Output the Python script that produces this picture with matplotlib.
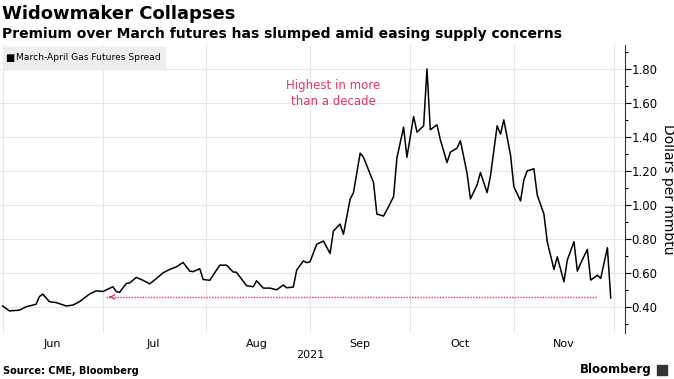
import matplotlib
matplotlib.use("Agg")
import matplotlib.pyplot as plt
import matplotlib.dates as mdates
from matplotlib.patches import Rectangle
import numpy as np
import pandas as pd

# March-April gas futures spread (2021)
DATES = [
    "06-01", "06-03", "06-06", "06-08", "06-11", "06-12", "06-13", "06-15", "06-17", "06-20",
    "06-22", "06-24", "06-27", "06-29",
    "07-01", "07-04", "07-05", "07-06", "07-08", "07-09", "07-11", "07-13", "07-15", "07-17",
    "07-19", "07-21", "07-23", "07-25", "07-27", "07-28", "07-30", "07-31",
    "08-02", "08-04", "08-05", "08-07", "08-09", "08-10", "08-13", "08-15", "08-16", "08-18",
    "08-20", "08-22", "08-24", "08-25", "08-27", "08-28", "08-30", "08-31",
    "09-01", "09-03", "09-05", "09-07", "09-08", "09-10", "09-11", "09-13", "09-14", "09-16",
    "09-17", "09-20", "09-21", "09-23", "09-24", "09-26", "09-27", "09-29", "09-30",
    "10-02", "10-03", "10-05", "10-06", "10-07", "10-09", "10-10", "10-12", "10-13", "10-15",
    "10-16", "10-18", "10-19", "10-21", "10-22", "10-24", "10-25", "10-27", "10-28", "10-29",
    "10-31",
    "11-01", "11-03", "11-04", "11-05", "11-07", "11-08", "11-10", "11-11", "11-13", "11-14",
    "11-16", "11-17", "11-19", "11-20", "11-21", "11-23", "11-24", "11-26", "11-27", "11-29",
    "11-30",
]
SPREAD = [
    0.405, 0.376, 0.38, 0.40, 0.415, 0.46, 0.475, 0.43, 0.425, 0.405,
    0.41, 0.43, 0.475, 0.494,
    0.49, 0.518, 0.49, 0.485, 0.537, 0.54, 0.573, 0.556, 0.535, 0.566,
    0.60, 0.62, 0.635, 0.661, 0.61, 0.607, 0.624, 0.561,
    0.556, 0.616, 0.645, 0.645, 0.605, 0.603, 0.524, 0.518, 0.553, 0.51,
    0.51, 0.50, 0.528, 0.512, 0.516, 0.616, 0.67, 0.66,
    0.665, 0.768, 0.787, 0.714, 0.846, 0.887, 0.827, 1.033, 1.072, 1.304,
    1.28, 1.131, 0.946, 0.934, 0.97, 1.048, 1.275, 1.457, 1.28,
    1.52, 1.428, 1.465, 1.80, 1.442, 1.471, 1.383, 1.249, 1.31, 1.334,
    1.377, 1.186, 1.035, 1.117, 1.19, 1.072, 1.17, 1.465, 1.416, 1.50,
    1.294,
    1.107, 1.023, 1.147, 1.20, 1.212, 1.058, 0.946, 0.783, 0.62, 0.694,
    0.547, 0.675, 0.783, 0.61, 0.656, 0.738, 0.557, 0.586, 0.567, 0.748,
    0.452,
]
YTICKS = [0.40, 0.60, 0.80, 1.00, 1.20, 1.40, 1.60, 1.80]
LOW_LEVEL = 0.458
LOW_FROM, LOW_TO = "2021-07-02", "2021-11-26"

TITLE = "Widowmaker Collapses"
SUBTITLE = "Premium over March futures has slumped amid easing supply concerns"
SERIES_NAME = "March-April Gas Futures Spread"
NOTE = "Highest in more\nthan a decade"
PINK = "#e63462"
GRID = "#e6e6e6"

dates = pd.to_datetime(["2021-" + d for d in DATES])

fig = plt.figure(figsize=(6.74, 3.79), dpi=100)
ax = fig.add_axes([0.0, 0.121, 0.927, 0.760])

ax.plot(dates, SPREAD, color="black", lw=1.1, zorder=3)

# dotted reference line back to the summer low, with an open arrowhead
ax.plot(pd.to_datetime([LOW_FROM, LOW_TO]), [LOW_LEVEL, LOW_LEVEL],
        color=PINK, lw=1.0, ls=(0, (1, 1)), zorder=2)
ax.annotate("", xy=(pd.Timestamp(LOW_FROM), LOW_LEVEL),
            xytext=(pd.Timestamp(LOW_FROM) + pd.Timedelta(days=2), LOW_LEVEL),
            arrowprops=dict(arrowstyle="->", color=PINK, lw=0.9,
                            mutation_scale=8))

ax.text(pd.Timestamp("2021-09-08"), 1.655, NOTE, color=PINK, fontsize=8.5,
        ha="center", va="center", linespacing=1.35)

ax.set_xlim(pd.Timestamp("2021-05-31 05:00"), pd.Timestamp("2021-12-04 05:00"))
ax.set_ylim(0.245, 1.94)

ax.xaxis.set_major_locator(mdates.MonthLocator())
ax.xaxis.set_minor_locator(mdates.MonthLocator(bymonthday=16))
ax.xaxis.set_major_formatter(mdates.DateFormatter(""))
ax.xaxis.set_minor_formatter(mdates.DateFormatter("%b"))
ax.tick_params(axis="x", which="both", length=0, labelsize=8, pad=4)

ax.yaxis.tick_right()
ax.yaxis.set_label_position("right")
ax.set_yticks(YTICKS)
ax.set_yticks(np.arange(0.30, 1.95, 0.10), minor=True)
ax.set_yticklabels([f"{v:.2f}" for v in YTICKS])
ax.tick_params(axis="y", which="major", length=4, width=0.8, labelsize=8.5, pad=1)
ax.tick_params(axis="y", which="minor", length=2.5, width=0.8)
ax.set_ylabel("Dollars per mmbtu", rotation=270, fontsize=10, labelpad=12)

ax.grid(axis="x", which="major", color=GRID, lw=0.8)
ax.grid(axis="y", which="major", color=GRID, lw=0.8)
for s in ["top", "left", "bottom"]:
    ax.spines[s].set_visible(False)
ax.spines["right"].set_color("#333333")
ax.spines["right"].set_linewidth(0.8)

# legend chip
fig.patches.append(Rectangle((3 / 674, 1 - 68 / 379), 162 / 674, 21 / 379,
                             transform=fig.transFigure, color="#eeeeee", zorder=5))
fig.text(5 / 674, 1 - 57.5 / 379, "\u25a0", fontsize=7, va="center", zorder=6)
fig.text(16 / 674, 1 - 57.5 / 379, SERIES_NAME, fontsize=6.6, va="center", zorder=6)

fig.text(2 / 674, 1 - 14 / 379, TITLE, fontsize=13, weight="bold", va="center")
fig.text(2 / 674, 1 - 34 / 379, SUBTITLE, fontsize=10, weight="bold", va="center")
fig.text(310 / 674, 1 - 355 / 379, "2021", fontsize=8, ha="center", va="center")
fig.text(3 / 674, 1 - 371 / 379, "Source: CME, Bloomberg", fontsize=7, weight="bold",
         va="center")
fig.text(652 / 674, 1 - 370 / 379, "Bloomberg", fontsize=8.5, weight="bold",
         ha="right", va="center")
fig.patches.append(Rectangle((657 / 674, 1 - 375 / 379), 10 / 674, 10 / 379,
                             transform=fig.transFigure, color="#333333"))

fig.savefig("out.png", dpi=100)
